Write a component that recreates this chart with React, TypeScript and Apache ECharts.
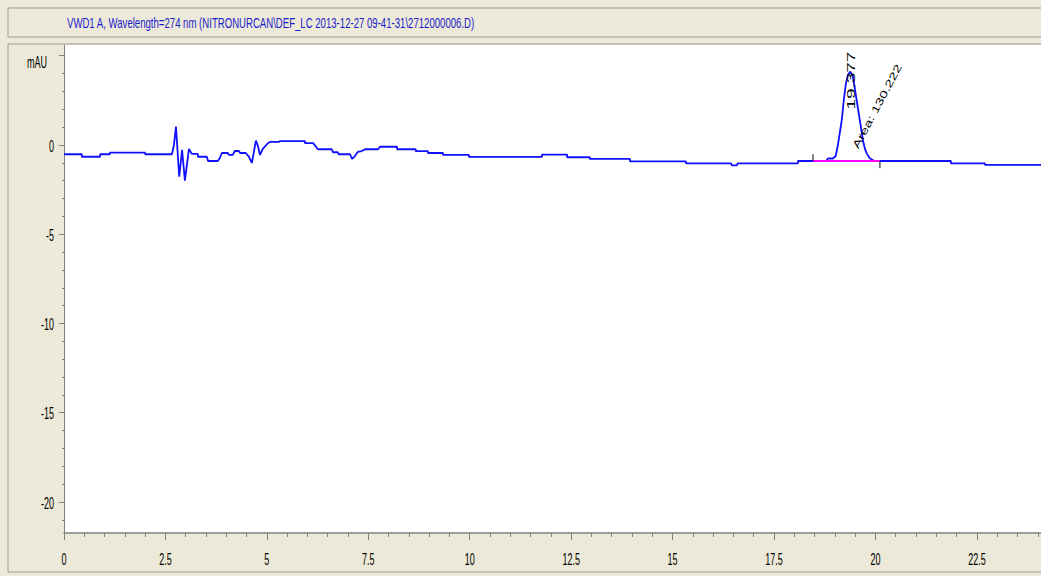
import React, { useEffect, useRef } from "react";
import * as echarts from "echarts";

const TITLE = "VWD1 A, Wavelength=274 nm (NITRONURCAN\\DEF_LC 2013-12-27 09-41-31\\2712000006.D)";

const TIME = [
  0, 0.44, 0.44, 0.89, 0.89, 1.13, 1.13, 2.0, 2.0, 2.66,
  2.71, 2.76, 2.84, 2.91, 2.98, 3.08, 3.15, 3.3, 3.3, 3.52,
  3.55, 3.79, 3.84, 3.89, 4.04, 4.06, 4.16, 4.21, 4.31, 4.34,
  4.48, 4.56, 4.63, 4.68, 4.73, 4.78, 4.83, 4.9, 5.03, 5.08,
  5.3, 5.32, 5.94, 5.94, 6.14, 6.26, 6.6, 6.63, 6.75, 6.77,
  7.05, 7.1, 7.17, 7.24, 7.34, 7.42, 7.74, 7.79, 8.21, 8.21,
  8.67, 8.67, 8.97, 8.97, 9.34, 9.34, 9.98, 9.98, 11.78, 11.78,
  12.4, 12.4, 12.96, 12.96, 13.95, 13.95, 15.33, 15.33, 16.44, 16.46,
  16.58, 16.61, 18.09, 18.09, 18.78, 18.83, 18.95, 19.02, 19.07, 19.12,
  19.17, 19.22, 19.27, 19.32, 19.38, 19.44, 19.49, 19.54, 19.59, 19.64,
  19.69, 19.74, 19.79, 19.86, 19.94, 20.01, 21.86, 21.86, 22.7, 22.7,
  24.08,
];

const SIGNAL = [
  -0.52, -0.52, -0.66, -0.66, -0.52, -0.52, -0.43, -0.43, -0.52, -0.52,
  0.0, 1.03, -1.78, -0.28, -2.0, -0.22, -0.5, -0.5, -0.66, -0.66,
  -0.9, -0.9, -0.73, -0.45, -0.45, -0.56, -0.56, -0.34, -0.34, -0.45,
  -0.45, -0.67, -1.01, -0.39, 0.24, -0.06, -0.56, -0.22, 0.11, 0.17,
  0.17, 0.22, 0.22, 0.1, 0.1, -0.24, -0.24, -0.41, -0.41, -0.52,
  -0.52, -0.78, -0.62, -0.39, -0.34, -0.24, -0.24, -0.1, -0.1, -0.24,
  -0.24, -0.35, -0.35, -0.45, -0.45, -0.56, -0.56, -0.67, -0.67, -0.54,
  -0.54, -0.69, -0.69, -0.78, -0.78, -0.92, -0.92, -1.03, -1.03, -1.14,
  -1.14, -1.03, -1.03, -0.9, -0.9, -0.76, -0.76, -0.62, -0.06, 0.67,
  1.4, 2.52, 3.42, 3.92, 4.11, 3.87, 3.19, 2.46, 1.74, 1.01,
  0.28, -0.22, -0.5, -0.75, -0.86, -0.9, -0.9, -1.03, -1.03, -1.12,
  -1.12,
];

const BASELINE_T = [18.46, 20.11];
const BASELINE_V = [-0.9, -0.9];
const MARK_START_V = [-0.9, -0.52];
const MARK_END_V = [-0.9, -1.3];

const PEAK_RT = 19.377;
const PEAK_HEIGHT = 4.11;
const PEAK_AREA = "130.222";

const X_MIN = 0;
const X_MAX = 24.08;
const Y_MIN = -21.74;
const Y_MAX = 5.6;

const X_MAJOR = [0, 2.5, 5, 7.5, 10, 12.5, 15, 17.5, 20, 22.5];
const X_LABELS = ["0", "2.5", "5", "7.5", "10", "12.5", "15", "17.5", "20", "22.5"];
const X_MINOR = [0.5, 1, 1.5, 2, 3, 3.5, 4, 4.5, 5.5, 6, 6.5, 7, 8, 8.5, 9, 9.5, 10.5, 11, 11.5, 12, 13, 13.5, 14, 14.5, 15.5, 16, 16.5, 17, 18, 18.5, 19, 19.5, 20.5, 21, 21.5, 22, 23, 23.5, 24];
const Y_MAJOR = [5, 0, -5, -10, -15, -20];
const Y_LABELS = ["mAU", "0", "-5", "-10", "-15", "-20"];
const Y_MINOR = [4, 3, 2, 1, -1, -2, -3, -4, -6, -7, -8, -9, -11, -12, -13, -14, -16, -17, -18, -19, -21];

const FONT = "'Liberation Sans', Arial, sans-serif";
const BEIGE = "#ECE9D8";
const AXIS_GRAY = "#808080";

export default function App() {
  const ref = useRef<HTMLDivElement>(null);

  useEffect(() => {
    if (!ref.current) return;
    const chart = echarts.init(ref.current, undefined, { renderer: "svg" });
    const signal = TIME.map((t, i) => [t, SIGNAL[i]]);
    const baseline = BASELINE_T.map((t, i) => [t, BASELINE_V[i]]);
    const markStart = MARK_START_V.map((v) => [BASELINE_T[0], v]);
    const markEnd = MARK_END_V.map((v) => [BASELINE_T[1], v]);

    chart.setOption({
      animation: false,
      backgroundColor: BEIGE,
      grid: {
        left: 64,
        right: 0,
        top: 45,
        bottom: 43,
        show: true,
        backgroundColor: "#ffffff",
        borderWidth: 0,
      },
      xAxis: [
        {
          type: "value",
          min: X_MIN,
          max: X_MAX,
          position: "bottom",
          axisLine: { show: true, onZero: false, lineStyle: { color: AXIS_GRAY, width: 1.5 } },
          axisTick: { show: true, customValues: X_MAJOR, length: 7, lineStyle: { color: AXIS_GRAY } },
          axisLabel: { show: false },
          splitLine: { show: false },
        },
        {
          type: "value",
          min: X_MIN,
          max: X_MAX,
          position: "bottom",
          axisLine: { show: false, onZero: false },
          axisTick: { show: true, customValues: X_MINOR, length: 4, lineStyle: { color: AXIS_GRAY } },
          axisLabel: { show: false },
          splitLine: { show: false },
        },
      ],
      yAxis: [
        {
          type: "value",
          min: Y_MIN,
          max: Y_MAX,
          position: "left",
          axisLine: { show: true, onZero: false, lineStyle: { color: AXIS_GRAY, width: 1 } },
          axisTick: { show: true, customValues: Y_MAJOR, length: 5, lineStyle: { color: AXIS_GRAY } },
          axisLabel: { show: false },
          splitLine: { show: false },
        },
        {
          type: "value",
          min: Y_MIN,
          max: Y_MAX,
          position: "left",
          axisLine: { show: false, onZero: false },
          axisTick: { show: true, customValues: Y_MINOR, length: 2, lineStyle: { color: AXIS_GRAY } },
          axisLabel: { show: false },
          splitLine: { show: false },
        },
      ],
      series: [
        {
          type: "line",
          data: signal,
          showSymbol: false,
          lineStyle: { color: "#1010ff", width: 1.8 },
          z: 2,
        },
        {
          type: "line",
          data: baseline,
          showSymbol: false,
          lineStyle: { color: "#ff00ff", width: 2 },
          z: 3,
        },
        {
          type: "line",
          data: markStart,
          showSymbol: false,
          lineStyle: { color: "#000", width: 1 },
          z: 4,
        },
        {
          type: "line",
          data: markEnd,
          showSymbol: false,
          lineStyle: { color: "#000", width: 1 },
          z: 4,
        },
      ],
    });

    const toX = (v: number) => chart.convertToPixel({ xAxisIndex: 0 }, v) as number;
    const toY = (v: number) => chart.convertToPixel({ yAxisIndex: 0 }, v) as number;
    const axisY = toY(Y_MIN);
    const axisX = toX(X_MIN);
    const apexX = toX(PEAK_RT);
    const apexY = toY(PEAK_HEIGHT);

    const textStyle = (text: string, align: string) => ({
      text,
      align,
      verticalAlign: "middle",
      fontSize: 12,
      fontFamily: FONT,
      fill: "#000",
    });

    const xLabels = X_MAJOR.map((v, i) => ({
      type: "text",
      x: toX(v),
      y: axisY + 26,
      scaleX: 0.75,
      scaleY: 1.4,
      style: textStyle(X_LABELS[i], "center"),
      z: 20,
    }));

    const yLabels = Y_MAJOR.map((v, i) => ({
      type: "text",
      x: axisX - (i === 0 ? 17 : 10),
      y: toY(v) + (i === 0 ? 7 : 1),
      scaleX: 0.75,
      scaleY: 1.4,
      style: textStyle(Y_LABELS[i], "right"),
      z: 20,
    }));

    chart.setOption({
      graphic: [
        {
          type: "rect",
          shape: { x: 8, y: 8, width: 1040, height: 29 },
          style: { fill: "none", stroke: "#9c9c9c", lineWidth: 1 },
          z: 10,
        },
        {
          type: "rect",
          shape: { x: 8, y: 44, width: 1040, height: 528 },
          style: { fill: "none", stroke: "#9c9c9c", lineWidth: 1 },
          z: 10,
        },
        {
          type: "text",
          x: 67,
          y: 23,
          scaleX: 0.8,
          scaleY: 1.15,
          style: {
            text: TITLE,
            align: "left",
            verticalAlign: "middle",
            fontSize: 12,
            fontFamily: FONT,
            fill: "#1c1ccc",
          },
          z: 20,
        },
        ...xLabels,
        ...yLabels,
        {
          type: "text",
          x: apexX + 1,
          y: apexY + 38,
          rotation: Math.PI / 2,
          scaleX: 1.58,
          scaleY: 0.85,
          style: textStyle(PEAK_RT.toFixed(3), "left"),
          z: 20,
        },
        {
          type: "text",
          x: apexX + 5,
          y: apexY + 76,
          rotation: (62 * Math.PI) / 180,
          scaleX: 1.24,
          scaleY: 0.85,
          style: textStyle("Area: " + PEAK_AREA, "left"),
          z: 20,
        },
      ],
    });

    return () => chart.dispose();
  }, []);

  return (
    <div
      ref={ref}
      style={{ position: "fixed", left: 0, top: 0, width: 1041, height: 576 }}
    />
  );
}
